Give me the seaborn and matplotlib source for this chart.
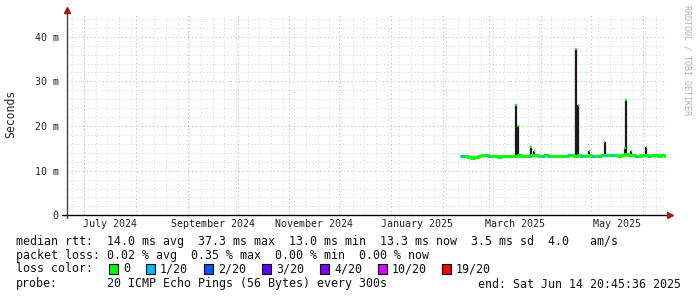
import numpy as np
import pandas as pd
import matplotlib
matplotlib.use("Agg")
import matplotlib.pyplot as plt
from matplotlib.patches import Rectangle
import seaborn as sns

# ---------------- data ----------------
median_start = "2025-02-12"
median_ms = [13.2, 13.2, 13.0, 12.9, 13.1, 13.2, 13.6, 13.5, 13.3,
             13.3, 13.2, 13.1, 13.2, 13.3, 13.3, 13.2, 13.3, 13.4, 13.3, 13.3, 13.3, 13.5, 13.4, 13.3,
             13.3, 13.4, 13.3, 13.3, 13.3, 13.2, 13.3, 13.3, 13.5, 13.4, 13.3, 13.4, 13.3, 13.3, 13.6,
             13.3, 13.2, 13.3, 13.5, 13.6, 13.4, 13.5, 13.4, 13.3, 13.4, 13.8, 13.6, 13.4, 13.3, 13.3, 13.4,
             13.6, 13.3, 13.5, 13.4, 13.3, 13.4, 13.3]
median_loss = [1, 0, 0, 0, 0, 0, 0, 0, 1,
               0, 0, 0, 0, 0, 0, 0, 0, 0, 0, 0, 1, 0, 0, 0,
               1, 0, 1, 0, 0, 0, 0, 0, 1, 0, 0, 0, 1, 0, 0,
               1, 0, 1, 0, 1, 0, 1, 0, 0, 0, 0, 0, 0, 1, 0, 0,
               0, 1, 0, 0, 0, 0, 0]

spike_dates = ["2025-03-17 00:00", "2025-03-18 06:00", "2025-03-26 00:00", "2025-03-28 00:00",
               "2025-04-22 00:00", "2025-04-23 06:00", "2025-04-30 00:00", "2025-05-09 00:00",
               "2025-05-21 08:00", "2025-05-22 00:00", "2025-05-25 00:00", "2025-06-03 00:00"]
spike_max_ms = [24.6, 19.9, 15.4, 14.3, 37.3, 24.6, 14.5, 16.5, 15.0, 25.9, 14.5, 15.2]
spike_loss = [1, 0, 0, 0, 0, 1, 1, 1, 0, 0, 0, 0]

x_start = "2024-06-20 18:00"
x_end = "2025-06-14 20:45:36"
month_labels = ["July 2024", "September 2024", "November 2024",
                "January 2025", "March 2025", "May 2025"]
month_label_pos = ["2024-07-16 12:00", "2024-09-16 00:00", "2024-11-16 00:00",
                   "2025-01-16 12:00", "2025-03-16 12:00", "2025-05-16 12:00"]
y_ticks = [0, 10, 20, 30, 40]
y_tick_labels = ["0", "10 m", "20 m", "30 m", "40 m"]

loss_names = ["0", "1/20", "2/20", "3/20", "4/20", "10/20", "19/20"]
loss_colors = ["#00ff00", "#00b8ff", "#0059ff", "#5e00ff", "#7e00ff", "#dd00ff", "#ff0000"]

legend_lines = [
    "median rtt:  14.0 ms avg  37.3 ms max  13.0 ms min  13.3 ms now  3.5 ms sd  4.0   am/s",
    "packet loss: 0.02 % avg  0.35 % max  0.00 % min  0.00 % now",
]
probe_text = "20 ICMP Echo Pings (56 Bytes) every 300s"
end_text = "end: Sat Jun 14 20:45:36 2025"

# ---------------- style ----------------
sns.set_theme(style="white")
plt.rcParams["font.family"] = ["DejaVu Sans Mono"]

W, H = 697, 297
fig = plt.figure(figsize=(W / 100, H / 100), dpi=100)
fig.patch.set_facecolor("white")
ax_l, ax_r, ax_t, ax_b = 67, 666, 14.4, 215.3
ax = fig.add_axes([ax_l / W, 1 - ax_b / H, (ax_r - ax_l) / W, (ax_b - ax_t) / H])
ax.set_facecolor("white")

xs = pd.Timestamp(x_start)
xe = pd.Timestamp(x_end)
ax.set_xlim(xs, xe)
ax.set_ylim(0, 45)

# grid
grid_minor = "#d4d4d4"
grid_major = "#eeaaaa"
dots = (0, (1, 2.5))
for yv in np.arange(2, 45, 2):
    if yv % 10 != 0:
        ax.axhline(yv, color=grid_minor, lw=0.7, ls=dots, zorder=0)
for d in pd.date_range("2024-06-24", xe, freq="7D"):
    ax.axvline(d, color=grid_minor, lw=0.7, ls=dots, zorder=0)
for yv in [10, 20, 30, 40]:
    ax.axhline(yv, color=grid_major, lw=0.8, ls=dots, zorder=0.5)
for d in pd.date_range("2024-07-01", xe, freq="MS"):
    ax.axvline(d, color=grid_major, lw=0.8, ls=dots, zorder=0.5)

# data frame for median
dates = pd.date_range(median_start, periods=len(median_ms), freq="2D")
df = pd.DataFrame({"date": dates, "median": median_ms, "loss": median_loss})
step_dates = list(dates) + [xe]
step_vals = median_ms + [median_ms[-1]]
dstep = pd.DataFrame({"date": step_dates, "median": step_vals})

# spikes (dark smoke bars)
sp = pd.DataFrame({"date": pd.to_datetime(spike_dates, format="ISO8601"),
                   "max": spike_max_ms, "loss": spike_loss})
ax.vlines(sp["date"], 13.3, sp["max"], color="#1a1a1a", lw=1.6, zorder=2)

# median line
sns.lineplot(data=dstep, x="date", y="median", drawstyle="steps-post",
             color=loss_colors[0], lw=2.2, ax=ax, zorder=3)
# loss-coloured pieces
for i, row in df.iterrows():
    if row["loss"] > 0:
        ax.hlines(row["median"], row["date"], row["date"] + pd.Timedelta(hours=36),
                  color=loss_colors[int(row["loss"])], lw=2.2, zorder=4)
# spike caps
for _, row in sp.iterrows():
    ax.hlines(row["max"], row["date"] - pd.Timedelta(hours=10), row["date"] + pd.Timedelta(hours=10),
              color=loss_colors[int(row["loss"])], lw=1.6, zorder=5)

# axes / ticks
for s in ax.spines.values():
    s.set_visible(False)
ax.set_yticks(y_ticks)
ax.set_yticklabels(y_tick_labels)
ax.set_xticks(pd.to_datetime(month_label_pos, format="ISO8601"))
ax.set_xticklabels(month_labels)
ax.tick_params(axis="both", length=0, labelsize=7.2, colors="#222222")
ax.tick_params(axis="y", pad=6)
ax.tick_params(axis="x", pad=3)
ax.set_xlabel("")
ax.set_ylabel("")
fig.text(11 / W, 1 - 114 / H, "Seconds", rotation=90, fontsize=8.3, color="#222222",
         ha="center", va="center")

# axis lines with arrows
ax.plot([0, 0], [-0.015, 1.01], transform=ax.transAxes, color="#444444", lw=1.0, clip_on=False, zorder=6)
ax.plot([-0.008, 1.005], [0, 0], transform=ax.transAxes, color="#000000", lw=1.0, clip_on=False, zorder=6)
ax.plot([0], [1.02], marker="^", markersize=4, color="#9b1c1c", transform=ax.transAxes, clip_on=False, zorder=7)
ax.plot([1.007], [0], marker=">", markersize=4, color="#9b1c1c", transform=ax.transAxes, clip_on=False, zorder=7)

# watermark
fig.text(687 / W, 1 - 5 / H, "RRDTOOL / TOBI OETIKER", rotation=270, fontsize=6,
         color="#b0b0b0", ha="center", va="top")

# legend text
fs = 8.4
ypx = [241, 255, 269, 284]
fig.text(16 / W, 1 - ypx[0] / H, legend_lines[0], fontsize=fs, va="center", ha="left", color="#111111")
fig.text(16 / W, 1 - ypx[1] / H, legend_lines[1], fontsize=fs, va="center", ha="left", color="#111111")
fig.text(16 / W, 1 - ypx[2] / H, "loss color:", fontsize=fs, va="center", ha="left", color="#111111")
box_x = [109, 146, 204, 262, 320, 378, 442]
for bx, name, col in zip(box_x, loss_names, loss_colors):
    fig.patches.append(Rectangle((bx / W, 1 - 274 / H), 9 / W, 10 / H, transform=fig.transFigure,
                                 facecolor=col, edgecolor="#000000", lw=0.8))
    fig.text((bx + 14) / W, 1 - ypx[2] / H, name, fontsize=fs, va="center", ha="left", color="#111111")
fig.text(16 / W, 1 - ypx[3] / H, "probe:", fontsize=fs, va="center", ha="left", color="#111111")
fig.text(107 / W, 1 - ypx[3] / H, probe_text, fontsize=fs, va="center", ha="left", color="#111111")
fig.text(681 / W, 1 - ypx[3] / H, end_text, fontsize=fs, va="center", ha="right", color="#111111")

fig.savefig("out.png", dpi=100, facecolor="white")
